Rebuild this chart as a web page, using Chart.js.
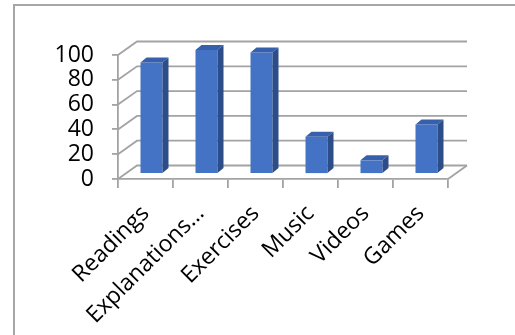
<!DOCTYPE html>
<html>
<head>
<meta charset="utf-8">
<script src="https://cdn.jsdelivr.net/npm/chart.js@4/dist/chart.umd.min.js"></script>
<style>
  body { margin: 0; background: #fff; }
  #wrap { position: relative; width: 515px; height: 335px; overflow: hidden; }
  #frame { position: absolute; left: 13px; top: 4px; width: 600px; height: 400px; border: 2px solid #a6a6a6; }
  canvas { position: absolute; left: 0; top: 0; }
</style>
</head>
<body>
<div id="wrap">
  <div id="frame"></div>
  <canvas id="myChart" width="515" height="335"></canvas>
</div>
<script>
// data
var categories = ['Readings', 'Explanations…', 'Exercises', 'Music', 'Videos', 'Games'];
var values = [90, 100, 98, 30, 11, 40];
var yMin = 0;
var yMax = 100;
var yStep = 20;

var gridColor = '#a3a3a3';
// depth offsets for the fake 3d look
var backDx = 19, backDy = -13.5;
var barDx = 6, barDy = -5;

var walls3d = {
  id: 'walls3d',
  beforeDatasetsDraw(chart) {
    var ctx = chart.ctx;
    var x = chart.scales.x, y = chart.scales.y;
    var left = chart.chartArea.left, right = chart.chartArea.right;
    ctx.save();
    ctx.strokeStyle = gridColor;
    ctx.lineWidth = 1.8;
    y.ticks.forEach(function (t) {
      var py = y.getPixelForValue(t.value);
      ctx.beginPath();
      ctx.moveTo(left, py);
      ctx.lineTo(left + backDx, py + backDy);
      ctx.lineTo(right + backDx, py + backDy);
      ctx.stroke();
    });
    // floor right edge
    var p0 = y.getPixelForValue(0);
    ctx.beginPath();
    ctx.moveTo(right, p0);
    ctx.lineTo(right + backDx, p0 + backDy);
    ctx.stroke();
    ctx.restore();

    // bars sit a bit deeper than the front plane
    ctx.save();
    ctx.translate(barDx, barDy);
  },
  afterDatasetsDraw(chart) {
    var ctx = chart.ctx;
    var meta = chart.getDatasetMeta(0);
    meta.data.forEach(function (bar) {
      var p = bar.getProps(['x', 'y', 'base', 'width'], true);
      var l = p.x - p.width / 2, r = p.x + p.width / 2;
      // top face
      ctx.fillStyle = '#3660ab';
      ctx.beginPath();
      ctx.moveTo(l, p.y);
      ctx.lineTo(l + barDx, p.y + barDy);
      ctx.lineTo(r + barDx, p.y + barDy);
      ctx.lineTo(r, p.y);
      ctx.closePath();
      ctx.fill();
      // side face
      ctx.fillStyle = '#2c4d88';
      ctx.beginPath();
      ctx.moveTo(r, p.y);
      ctx.lineTo(r + barDx, p.y + barDy);
      ctx.lineTo(r + barDx, p.base + barDy);
      ctx.lineTo(r, p.base);
      ctx.closePath();
      ctx.fill();
    });
    ctx.restore();
  }
};

var ctx = document.getElementById('myChart');
new Chart(ctx, {
  type: 'bar',
  data: {
    labels: categories,
    datasets: [{
      data: values,
      backgroundColor: '#4472c4',
      borderWidth: 0,
      barPercentage: 0.4,
      categoryPercentage: 1
    }]
  },
  options: {
    responsive: false,
    animation: false,
    layout: { padding: { left: 0, top: 55, right: 67, bottom: 0 } },
    plugins: {
      legend: { display: false },
      tooltip: { enabled: false }
    },
    scales: {
      x: {
        afterFit: function (s) { s.height = 156; },
        grid: { drawOnChartArea: false, tickLength: 9, color: gridColor, lineWidth: 1.8, offset: true },
        border: { display: true, color: gridColor, width: 1.8 },
        ticks: {
          minRotation: 45, maxRotation: 45, padding: 12, autoSkip: false,
          color: '#000',
          font: { family: 'Open Sans', size: 23 }
        }
      },
      y: {
        min: yMin, max: yMax,
        afterFit: function (s) { s.width = 118; },
        grid: { drawOnChartArea: false, tickLength: 6, color: gridColor, lineWidth: 1.8 },
        border: { display: true, color: gridColor, width: 1.8 },
        ticks: {
          stepSize: yStep, padding: 18, autoSkip: false,
          color: '#000',
          font: { family: 'Open Sans', size: 23 }
        }
      }
    }
  },
  plugins: [walls3d]
});
</script>
</body>
</html>
